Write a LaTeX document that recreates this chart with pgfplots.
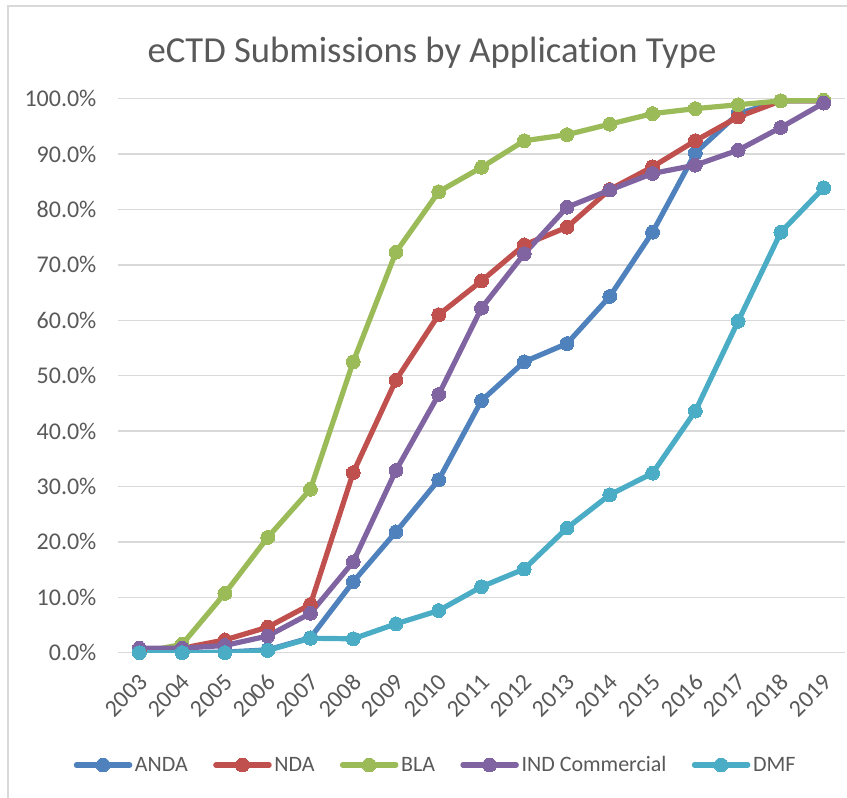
\documentclass[border=0pt]{standalone}
\usepackage{pgfplots}
\pgfplotsset{compat=1.18}
\usepackage{fontspec}
\setmainfont[Ligatures=NoCommon]{Carlito}
\definecolor{txt}{HTML}{595959}
\definecolor{gridc}{HTML}{D9D9D9}
\definecolor{cANDA}{HTML}{4F81BD}
\definecolor{cNDA}{HTML}{C0504D}
\definecolor{cBLA}{HTML}{9BBB59}
\definecolor{cIND}{HTML}{8064A2}
\definecolor{cDMF}{HTML}{4BACC6}
\begin{document}
\begin{tikzpicture}
\useasboundingbox (0,0) rectangle (635.25pt,598.5pt);
\draw[gridc, line width=1.1pt] (6pt,0) -- (6pt,594pt) -- (636pt,594pt);
\begin{axis}[
  at={(88.5pt,109pt)}, anchor=south west,
  scale only axis, width=545.25pt, height=415.5pt,
  xmin=-0.5, xmax=16.5, ymin=0, ymax=100,
  xtick={0,...,16},
  xticklabels={2003,2004,2005,2006,2007,2008,2009,2010,2011,2012,2013,2014,2015,2016,2017,2018,2019},
  ytick={0,10,...,100},
  yticklabel={\pgfmathprintnumber[fixed,fixed zerofill,precision=1]{\tick}\%},
  /pgf/number format/assume math mode=true,
  ymajorgrids, major grid style={gridc, line width=1.1pt},
  axis line style={draw=none},
  tick style={draw=none},
  ticklabel style={font=\fontsize{18}{20}\selectfont, text=txt},
  yticklabel style={anchor=east, inner sep=0pt, xshift=-16pt},
  xticklabel style={xshift=3pt, yshift=-19pt, rotate=45, anchor=east, inner sep=0pt},
  legend columns=5,
  legend style={at={(0.4374,-0.2027)}, anchor=center, draw=none, fill=none,
    font=\fontsize{16.5}{20}\selectfont, text=txt,
    /tikz/every even column/.append style={column sep=17pt}},
  legend image code/.code={
    \draw[#1, mark=none, line cap=round] (0pt,0pt) -- (40pt,0pt);
    \draw[#1, only marks] plot coordinates {(20pt,0pt)};
  },
  every axis plot/.append style={line width=3.9pt, mark=*, mark size=5.2pt, line join=round, line cap=round},
]
\addplot[cANDA, mark options={fill=cANDA, draw=cANDA, line width=0pt}] coordinates {
(0,0) (1,0) (2,0.1) (3,0.5) (4,2.7) (5,12.8) (6,21.8) (7,31.2) (8,45.5) (9,52.5) (10,55.8) (11,64.3) (12,75.9) (13,90.2) (14,97.3) (15,99.6) (16,99.6)};
\addlegendentry{ANDA}
\addplot[cNDA, mark options={fill=cNDA, draw=cNDA, line width=0pt}] coordinates {
(0,0.3) (1,0.8) (2,2.3) (3,4.6) (4,8.7) (5,32.5) (6,49.2) (7,61.0) (8,67.1) (9,73.6) (10,76.8) (11,83.6) (12,87.7) (13,92.4) (14,96.7) (15,99.6) (16,99.6)};
\addlegendentry{NDA}
\addplot[cBLA, mark options={fill=cBLA, draw=cBLA, line width=0pt}] coordinates {
(0,0) (1,1.5) (2,10.7) (3,20.8) (4,29.5) (5,52.5) (6,72.3) (7,83.2) (8,87.6) (9,92.4) (10,93.5) (11,95.4) (12,97.3) (13,98.2) (14,98.9) (15,99.6) (16,99.7)};
\addlegendentry{BLA}
\addplot[cIND, mark options={fill=cIND, draw=cIND, line width=0pt}] coordinates {
(0,0.8) (1,0.8) (2,1.3) (3,3.0) (4,7.1) (5,16.4) (6,32.9) (7,46.6) (8,62.2) (9,72.0) (10,80.4) (11,83.5) (12,86.5) (13,88.0) (14,90.7) (15,94.8) (16,99.2)};
\addlegendentry{IND Commercial}
\addplot[cDMF, mark options={fill=cDMF, draw=cDMF, line width=0pt}] coordinates {
(0,0) (1,0) (2,0) (3,0.4) (4,2.6) (5,2.5) (6,5.2) (7,7.6) (8,11.9) (9,15.1) (10,22.5) (11,28.5) (12,32.4) (13,43.6) (14,59.8) (15,75.9) (16,83.9)};
\addlegendentry{DMF}
\end{axis}
\node[anchor=base, text=txt, font=\fontsize{27.5}{30}\selectfont] at (324pt,551.25pt) {eCTD Submissions by Application Type};
\end{tikzpicture}
\end{document}
